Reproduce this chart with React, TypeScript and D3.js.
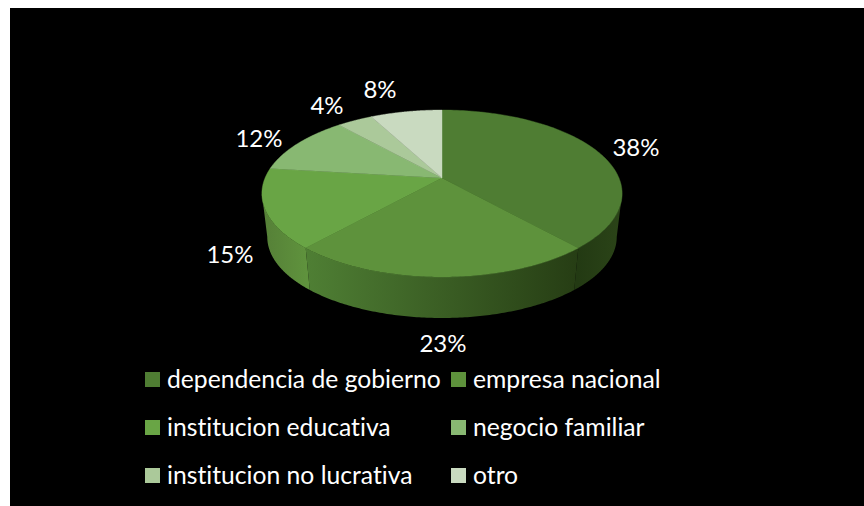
import React from "react";
import * as d3 from "d3";

const categories = ["dependencia de gobierno", "empresa nacional", "institucion educativa", "negocio familiar", "institucion no lucrativa", "otro"];
const counts = [10, 6, 4, 3, 1, 2];
const faceColors = ["#4f7d33", "#5e923c", "#69a545", "#88b872", "#abc99a", "#c9dac0"];
const sideStops = [
  ["#233a13", "#2b4418"],
  ["#4f7f34", "#263d14"],
  ["#557f37", "#5f923d"],
  ["#557f37", "#5f923d"],
  ["#557f37", "#5f923d"],
  ["#557f37", "#5f923d"],
];
const labelSpots = [[636, 146], [443, 342], [230, 253], [259, 137], [327, 104], [380, 88]];
const legendCols = [145, 451];
const legendRows = [380, 428, 476];

const W = 864, H = 506;
const cx = 442, cy = 178;
const a = 177, b = 80.6, k = 0.1856;
const depth = 44, shrink = 0.97;

function project(t: number): [number, number] {
  const u = Math.sin(t), v = Math.cos(t), w = 1 + k * v;
  return [(a * u) / w, (-b * v) / w];
}
const top = (t: number): [number, number] => { const p = project(t); return [cx + p[0], cy + p[1]]; };
const bot = (t: number): [number, number] => { const p = project(t); return [cx + shrink * p[0], cy + depth + shrink * p[1]]; };

export default function App() {
  const arcs = d3.pie<number>().sort(null)(counts);
  const total = d3.sum(counts);
  const line = d3.line();
  const angles = (s: number, e: number) => d3.range(0, 121).map((i) => s + ((e - s) * i) / 120);
  const tangent = Math.asin(k);
  const wall = (d: d3.PieArcDatum<number>) => [
    Math.max(d.startAngle, Math.PI / 2 + tangent),
    Math.min(d.endAngle, (3 * Math.PI) / 2 - tangent),
  ];
  return (
    <svg width={W} height={H} style={{ position: "absolute", left: 0, top: 0, fontFamily: "Lato, Carlito, sans-serif", fontVariantLigatures: "none" }}>
      <rect x={0} y={0} width={W} height={H} fill="#fff" />
      <rect x={10} y={8} width={W - 10} height={H - 8} fill="#000" />
      <defs>
        {arcs.map((d, i) => {
          const [s, e] = wall(d);
          if (e <= s) return null;
          return (
            <linearGradient key={i} id={`side${i}`} gradientUnits="userSpaceOnUse"
              x1={Math.min(top(s)[0], top(e)[0])} x2={Math.max(top(s)[0], top(e)[0])} y1={0} y2={0}>
              <stop offset="0" stopColor={sideStops[i][0]} />
              <stop offset="1" stopColor={sideStops[i][1]} />
            </linearGradient>
          );
        })}
      </defs>
      {arcs.map((d, i) => {
        const [s, e] = wall(d);
        if (e <= s) return null;
        const as = angles(s, e);
        const pts = [...as.map(top), ...as.slice().reverse().map(bot)];
        return <path key={i} d={line(pts) + "Z"} fill={`url(#side${i})`} />;
      })}
      {arcs.map((d, i) => {
        const pts = [[cx, cy] as [number, number], ...angles(d.startAngle, d.endAngle).map(top)];
        return <path key={i} d={line(pts) + "Z"} fill={faceColors[i]} stroke={faceColors[i]} strokeWidth={0.4} />;
      })}
      {labelSpots.map((p, i) => (
        <text key={i} x={p[0]} y={p[1]} fill="#fff" fontSize={24} textAnchor="middle" dominantBaseline="central">{Math.round((counts[i] / total) * 100)}%</text>
      ))}
      {categories.map((c, i) => {
        const x = legendCols[i % 2], y = legendRows[Math.floor(i / 2)];
        return (
          <g key={i}>
            <rect x={x} y={y - 8} width={15} height={15} fill={faceColors[i]} />
            <text x={x + 22} y={y - 2} fill="#fff" fontSize={24.7} dominantBaseline="central">{c}</text>
          </g>
        );
      })}
    </svg>
  );
}
